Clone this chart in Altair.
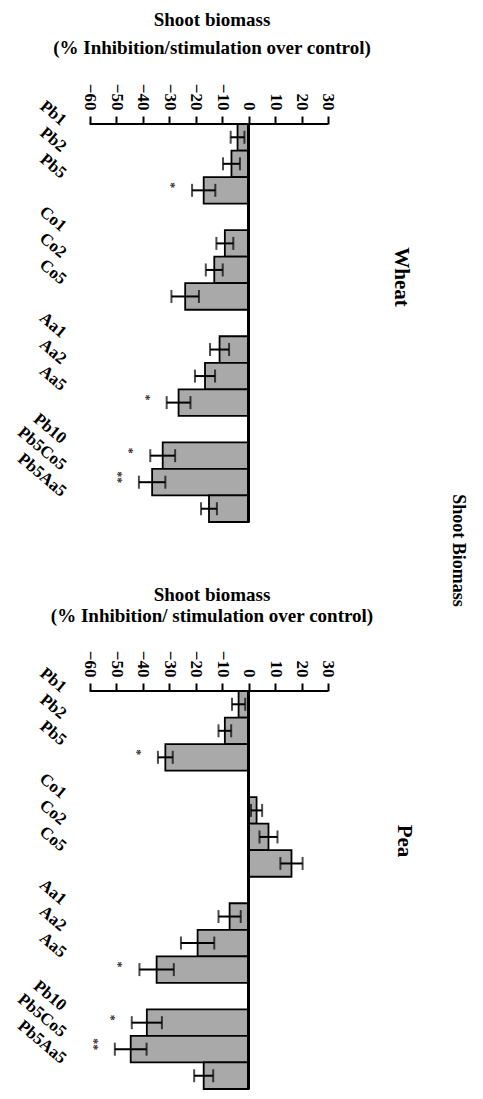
import altair as alt
import pandas as pd

categories = ["Pb1", "Pb2", "Pb5", "Co1", "Co2", "Co5", "Aa1", "Aa2", "Aa5", "Pb10", "Pb5Co5", "Pb5Aa5"]
slots = ["Pb1", "Pb2", "Pb5", "gap1", "Co1", "Co2", "Co5", "gap2",
         "Aa1", "Aa2", "Aa5", "gap3", "Pb10", "Pb5Co5", "Pb5Aa5"]
tick_values = [-60, -50, -40, -30, -20, -10, 0, 10, 20, 30]

wheat_values = [-4.2, -6.5, -17.0, -9.0, -13.0, -24.0, -11.0, -16.5, -26.5, -32.5, -36.5, -15.0]
wheat_errors = [2.6, 3.2, 4.4, 3.2, 3.2, 5.2, 3.6, 3.8, 4.5, 4.7, 5.0, 3.0]
wheat_stars = ["", "", "*", "", "", "", "", "", "*", "*", "**", ""]

pea_values = [-3.8, -9.0, -31.5, 3.0, 7.5, 16.2, -7.2, -19.3, -34.8, -38.5, -44.6, -17.0]
pea_errors = [2.5, 2.4, 2.8, 2.1, 3.4, 4.2, 4.2, 6.3, 6.5, 5.7, 6.0, 3.6]
pea_stars = ["", "", "*", "", "", "", "", "", "*", "*", "**", ""]

FONT = "Liberation Serif"
W, H = 405, 398
xscale = alt.Scale(domain=[-91, 62.15], nice=False, zero=False)
yscale = alt.Scale(domain=slots, paddingInner=0, paddingOuter=0)


def panel(values, errors, stars, title_lines, title_ys, crop, crop_xy):
    df = pd.DataFrame({
        "cat": categories,
        "value": values,
        "err": errors,
        "star": stars,
    })
    df["lo"] = df["value"] - df["err"]
    df["hi"] = df["value"] + df["err"]
    df["star_x"] = df["lo"] - 8
    base = alt.Chart(df)
    y = alt.Y("cat:N", scale=yscale, axis=None)

    bars = base.mark_bar(fill="#a9a9a9", stroke="black", strokeWidth=1.8).encode(
        y=y,
        x=alt.X("value:Q", scale=xscale, title=None,
                axis=alt.Axis(orient="top", values=tick_values, domain=False, grid=False,
                              labelAngle=90, tickSize=8, tickWidth=2, tickColor="black",
                              labelFont=FONT, labelFontSize=17, labelFontWeight="bold",
                              labelColor="black", labelPadding=6, labelOverlap=False,
                              labelFlush=False, labelBound=False)),
        x2=alt.datum(0),
    )
    err_rule = base.mark_rule(color="black", strokeWidth=2).encode(
        y=y, x=alt.X("lo:Q", title=None), x2="hi:Q")
    cap_lo = base.mark_tick(color="black", thickness=2, size=13).encode(
        y=y, x=alt.X("lo:Q", title=None))
    cap_hi = base.mark_tick(color="black", thickness=2, size=13).encode(
        y=y, x=alt.X("hi:Q", title=None))
    zero = base.mark_rule(color="black", strokeWidth=2).encode(x=alt.datum(0))
    axis_line = base.mark_rule(color="black", strokeWidth=2).encode(
        x=alt.datum(-60), x2=alt.datum(30), y=alt.value(0))
    labels = base.mark_text(angle=40, align="right", baseline="middle", font=FONT,
                            fontSize=17, fontWeight="bold", color="black",
                            dx=-9.6, dy=-11.5).encode(
        y=y, x=alt.value(56), text="cat:N")
    star_marks = base.transform_filter(alt.datum.star != "").mark_text(
        angle=90, align="center", baseline="middle", font=FONT, fontSize=12,
        fontWeight="bold", color="#3a3030", dx=-5).encode(
        y=y, x=alt.X("star_x:Q", title=None), text="star:N")

    one = pd.DataFrame({"t": [crop]})
    crop_label = alt.Chart(one).mark_text(
        angle=90, align="center", baseline="middle", font=FONT, fontSize=21,
        fontWeight="bold", color="black").encode(
        x=alt.value(crop_xy[0]), y=alt.value(crop_xy[1]), text="t:N")
    title_marks = [
        alt.Chart(one).mark_text(align="center", baseline="middle", font=FONT,
                                 fontSize=19, fontWeight="bold", color="black").encode(
            x=alt.value(204), y=alt.value(ty), text=alt.value(line))
        for line, ty in zip(title_lines, title_ys)
    ]

    return alt.layer(bars, err_rule, cap_lo, cap_hi, zero, axis_line, labels,
                     star_marks, crop_label, *title_marks).properties(width=W, height=H)


wheat = panel(wheat_values, wheat_errors, wheat_stars,
              ["Shoot biomass", "(% Inhibition/stimulation over control)"], [-104, -76],
              "Wheat", (393, 153))
pea = panel(pea_values, pea_errors, pea_stars,
            ["Shoot biomass", "(% Inhibition/ stimulation over control)"], [-96, -75],
            "Pea", (396, 150))

chart = alt.vconcat(wheat, pea, spacing=63).properties(
    padding={"left": 0, "top": 3, "right": 5, "bottom": 0},
    title=alt.TitleParams("Shoot Biomass", orient="right", anchor="middle", font=FONT,
                          fontSize=18, fontWeight="bold", color="black", offset=34),
).configure_view(stroke=None)

chart.save("out.html", embed_options={"renderer": "svg", "actions": False})
